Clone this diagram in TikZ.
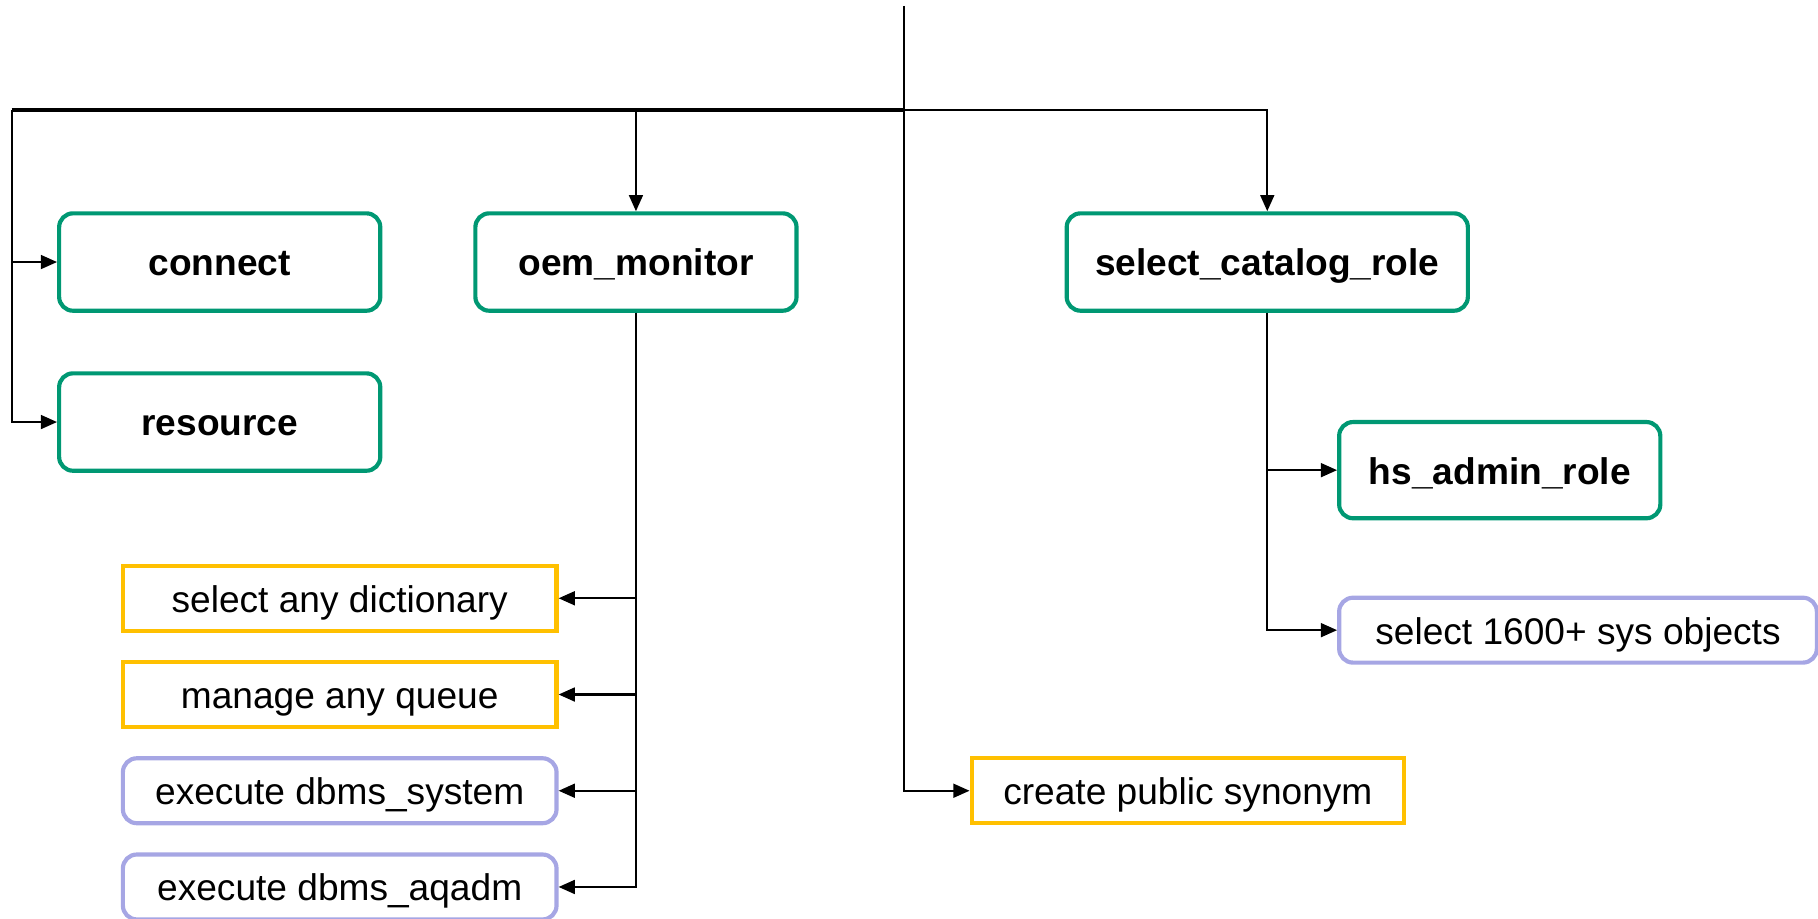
\documentclass[tikz,border=0pt]{standalone}
\usepackage{fontspec}
\setmainfont{Liberation Sans}
\usepackage{tikz}
\usetikzlibrary{positioning,arrows.meta}
\definecolor{rolegreen}{RGB}{0,152,115}
\definecolor{privyellow}{RGB}{255,192,0}
\definecolor{objlavender}{RGB}{166,166,228}
\tikzset{enlace/.style={line width=0.9pt, -{Triangle[length=7pt,width=6pt]}}}
\tikzset{barra/.style={line width=1.6pt}}
\tikzset{caja/.style={line width=1.8pt, text height=14pt, text depth=2pt, font=\fontsize{16}{19}\selectfont}}
\tikzset{rol/.style={caja, draw=rolegreen, rounded corners=6pt, minimum width=138.5pt, minimum height=42pt, font=\fontsize{16}{19}\selectfont\bfseries}}
\tikzset{priv/.style={caja, draw=privyellow, minimum width=187pt, minimum height=28pt}}
\tikzset{obj/.style={caja, draw=objlavender, rounded corners=6pt, minimum width=187pt, minimum height=28pt}}

\begin{document}
\begin{tikzpicture}[x=0.5pt, y=0.5pt]
            \useasboundingbox (0,0) rectangle (1568,-792);
            \coordinate (top) at (780,-5);
            \coordinate (bus) at (780,-95);
            \coordinate (left) at (10,-95);

            \node[rol] (connect) at (189.5,-226) {connect};
            \node[rol] (resource) at (189.5,-364) {resource};
            \node[rol] (oem) at (548.5,-226) {oem\_monitor};
            \node[rol, minimum width=173pt] (selcat) at (1093,-226) {select\_catalog\_role};
            \node[rol, minimum height=41.5pt] (hsadmin) at (1293.5,-405.5) {hs\_admin\_role};
            \node[obj, minimum width=206pt] (sysobj) at (1361,-543.5) {select 1600+ sys objects};
            \node[priv] (dict) at (293,-516) {select any dictionary};
            \node[priv] (queue) at (293,-599) {manage any queue};
            \node[obj] (dbmssys) at (293,-682) {execute dbms\_system};
            \node[obj] (aqadm) at (293,-765) {execute dbms\_aqadm};
            \node[priv, minimum width=186.5pt] (synonym) at (1024.5,-682) {create public synonym};

            % tronco principal
            \draw[enlace] (top) |- (synonym.west);
            \draw[barra] (left) -- (bus);
            \draw[enlace] (left) |- (connect.west);
            \draw[enlace] (left) |- (resource.west);
            \draw[enlace] (oem.north |- bus) -- (oem.north);
            \draw[enlace] (bus) -| (selcat.north);

            % privilegios de oem_monitor
            \draw[enlace] (oem.south) |- (dict.east);
            \draw[enlace] (oem.south) |- (queue.east);
            \draw[enlace] (oem.south) |- (dbmssys.east);
            \draw[enlace] (oem.south) |- (aqadm.east);

            % select_catalog_role
            \draw[enlace] (selcat.south) |- (hsadmin.west);
            \draw[enlace] (selcat.south) |- (sysobj.west);
        \end{tikzpicture}
\end{document}
